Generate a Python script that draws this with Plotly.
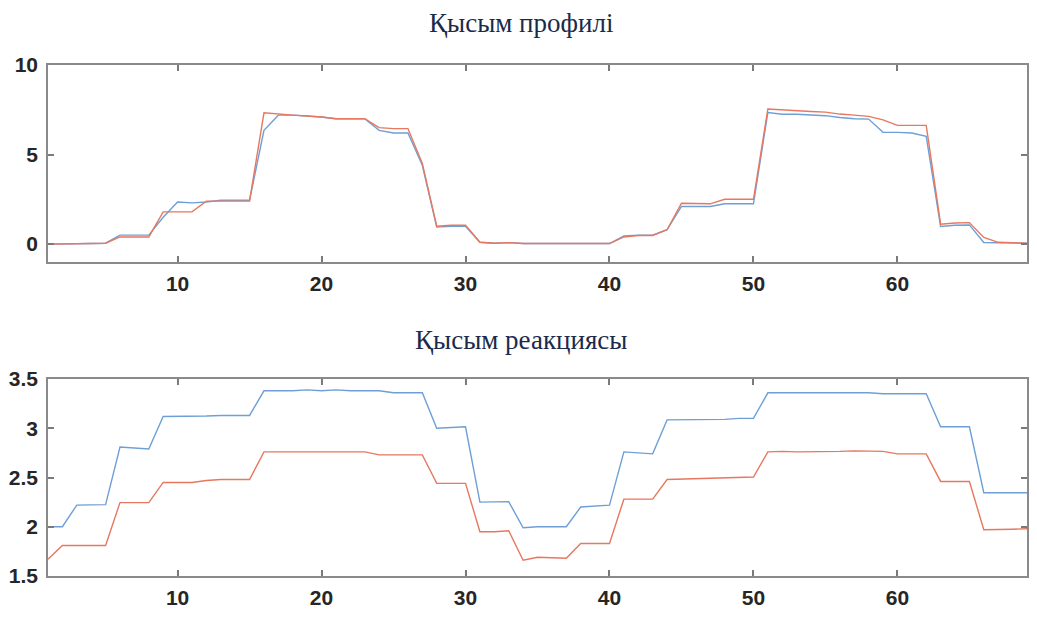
import plotly.graph_objects as go

x_idx = list(range(1, 70))

profile_blue = [0.0, 0.0, 0.02, 0.03, 0.05, 0.5, 0.5, 0.5, 1.5, 2.35,
                2.3, 2.35, 2.45, 2.45, 2.45, 6.35, 7.2, 7.2, 7.15, 7.1,
                7.0, 7.0, 7.0, 6.35, 6.2, 6.2, 4.4, 0.95, 1.0, 1.0,
                0.1, 0.05, 0.08, 0.03, 0.02, 0.02, 0.03, 0.03, 0.03, 0.03,
                0.45, 0.5, 0.5, 0.8, 2.1, 2.1, 2.1, 2.25, 2.25, 2.25,
                7.35, 7.25, 7.25, 7.2, 7.17, 7.07, 7.0, 6.98, 6.24, 6.24,
                6.2, 6.02, 0.98, 1.05, 1.07, 0.09, 0.08, 0.08, 0.05]
profile_red = [0.0, 0.0, 0.02, 0.03, 0.05, 0.4, 0.4, 0.4, 1.8, 1.8,
               1.8, 2.4, 2.4, 2.4, 2.4, 7.33, 7.25, 7.2, 7.15, 7.1,
               7.0, 7.0, 7.0, 6.5, 6.45, 6.45, 4.5, 1.0, 1.05, 1.05,
               0.1, 0.05, 0.08, 0.03, 0.02, 0.02, 0.03, 0.03, 0.03, 0.03,
               0.4, 0.48, 0.48, 0.8, 2.28, 2.25, 2.25, 2.5, 2.5, 2.5,
               7.54, 7.48, 7.45, 7.4, 7.37, 7.26, 7.2, 7.13, 6.94, 6.63,
               6.63, 6.63, 1.11, 1.18, 1.2, 0.37, 0.1, 0.08, 0.05]

response_blue = [2.0, 2.0, 2.22, 2.22, 2.225, 2.81, 2.80, 2.79, 3.12, 3.12,
                 3.12, 3.125, 3.13, 3.13, 3.13, 3.38, 3.38, 3.38, 3.39, 3.38,
                 3.39, 3.38, 3.38, 3.38, 3.36, 3.36, 3.36, 3.0, 3.01, 3.015,
                 2.25, 2.25, 2.255, 1.99, 2.0, 2.0, 2.0, 2.2, 2.21, 2.22,
                 2.76, 2.75, 2.74, 3.085, 3.085, 3.085, 3.085, 3.09, 3.1, 3.1,
                 3.36, 3.36, 3.36, 3.36, 3.365, 3.365, 3.36, 3.36, 3.35, 3.35,
                 3.35, 3.35, 3.015, 3.015, 3.015, 2.345, 2.345, 2.345, 2.345]
response_red = [1.67, 1.81, 1.81, 1.81, 1.81, 2.245, 2.245, 2.245, 2.45, 2.45,
                2.45, 2.47, 2.48, 2.48, 2.48, 2.76, 2.76, 2.76, 2.755, 2.76,
                2.755, 2.76, 2.76, 2.73, 2.73, 2.73, 2.73, 2.44, 2.44, 2.44,
                1.95, 1.95, 1.96, 1.66, 1.69, 1.685, 1.68, 1.83, 1.83, 1.83,
                2.28, 2.28, 2.28, 2.48, 2.485, 2.49, 2.49, 2.5, 2.505, 2.505,
                2.76, 2.765, 2.76, 2.76, 2.765, 2.765, 2.77, 2.77, 2.765, 2.74,
                2.74, 2.74, 2.46, 2.46, 2.46, 1.97, 1.97, 1.975, 1.98]

titles = ["Қысым профилі", "Қысым реакциясы"]
x_ticks = [10, 20, 30, 40, 50, 60]
top_y_ticks = [0, 5, 10]
bottom_y_ticks = [1.5, 2, 2.5, 3, 3.5]
bottom_y_labels = ["1.5", "2", "2.5", "3", "3.5"]

BLUE = "#6e9fd6"
RED = "#e8775f"

W, H = 1037, 619
L, R = 48, 10
PW = W - L - R

fig = go.Figure()
fig.add_trace(go.Scatter(x=x_idx, y=profile_blue, mode="lines",
                         line=dict(color=BLUE, width=1.4), xaxis="x", yaxis="y"))
fig.add_trace(go.Scatter(x=x_idx, y=profile_red, mode="lines",
                         line=dict(color=RED, width=1.4), xaxis="x", yaxis="y"))
fig.add_trace(go.Scatter(x=x_idx, y=response_blue, mode="lines",
                         line=dict(color=BLUE, width=1.4), xaxis="x2", yaxis="y2"))
fig.add_trace(go.Scatter(x=x_idx, y=response_red, mode="lines",
                         line=dict(color=RED, width=1.4), xaxis="x2", yaxis="y2"))

tick_font = dict(family="Liberation Sans, Arial, sans-serif", size=21,
                 color="#262626", weight="bold")
axis_common = dict(showline=True, linecolor="#8a8a8a", linewidth=1.5,
                   mirror="ticks", ticks="inside", ticklen=6, tickwidth=1.5,
                   tickcolor="#7a7a7a", showgrid=False, zeroline=False,
                   automargin=False, tickfont=tick_font)

title_font = dict(family="Liberation Serif, Times New Roman, serif",
                  size=27, color="#1c2a4a")

fig.update_layout(
    width=W, height=H,
    autosize=False,
    paper_bgcolor="white", plot_bgcolor="white",
    showlegend=False,
    margin=dict(l=L, r=R, t=0, b=0, pad=0, autoexpand=False),
    xaxis=dict(domain=[0, 1], range=[1, 69], tickvals=x_ticks, anchor="y",
               ticklabelstandoff=2, **axis_common),
    yaxis=dict(domain=[1 - 262 / H, 1 - 65 / H], range=[-1, 10],
               tickvals=top_y_ticks, anchor="x", ticklabelstandoff=4,
               **axis_common),
    xaxis2=dict(domain=[0, 1], range=[1, 69], tickvals=x_ticks, anchor="y2",
                ticklabelstandoff=2, **axis_common),
    yaxis2=dict(domain=[1 - 576 / H, 1 - 379 / H], range=[1.5, 3.5],
                tickvals=bottom_y_ticks, ticktext=bottom_y_labels, anchor="x2",
                ticklabelstandoff=4, **axis_common),
    annotations=[
        dict(text=titles[0], x=(521 - L) / PW, y=1 - 23 / H, xref="paper", yref="paper",
             xanchor="center", yanchor="middle", showarrow=False, font=title_font),
        dict(text=titles[1], x=(521 - L) / PW, y=1 - 340 / H, xref="paper", yref="paper",
             xanchor="center", yanchor="middle", showarrow=False, font=title_font),
    ],
)

fig.write_html("out.html", config={"displayModeBar": False},
               post_script="document.body.style.margin='0';document.body.style.padding='0';")
